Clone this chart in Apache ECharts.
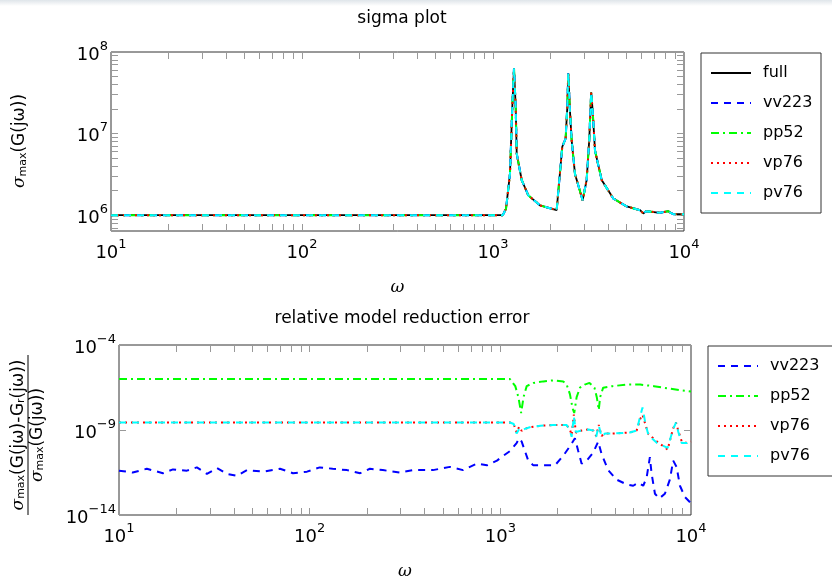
<!DOCTYPE html>
<html><head><meta charset="utf-8">
<script src="https://cdn.jsdelivr.net/npm/echarts@6/dist/echarts.min.js"></script>
<style>html,body{margin:0;padding:0;background:#fff}#c{width:832px;height:581px}</style>
</head><body><div id="c"></div>
<script>
// ---------- data ----------
const seriesNames = ['full', 'vv223', 'pp52', 'vp76', 'pv76'];
const xLabelTicks = [10, 100, 1000, 10000];
const xTicks = [10, 20, 30, 40, 50, 60, 70, 80, 90, 100, 200, 300, 400, 500, 600, 700, 800, 900, 1000,
  2000, 3000, 4000, 5000, 6000, 7000, 8000, 9000, 10000];
const yTopLabelTicks = [1e6, 1e7, 1e8];
const yTopTicks = [7e5, 8e5, 9e5, 1e6, 2e6, 3e6, 4e6, 5e6, 6e6, 7e6, 8e6, 9e6, 1e7,
  2e7, 3e7, 4e7, 5e7, 6e7, 7e7, 8e7, 9e7, 1e8];
const yBotLabelTicks = [1e-14, 1e-9, 1e-4];

// sigma plot (all models overlap the full model)
const omegaTop = [10, 1125, 1170, 1227, 1262, 1288, 1315, 1331, 1413, 1531, 1762, 2154, 2305, 2400, 2449, 2477,
  2529, 2581, 2687, 2946, 3093, 3190, 3267, 3325, 3420, 3706, 4266, 5012, 5888, 6124, 6324, 7487, 8276, 8511, 8790, 10000];
const sigmaFull = [1e6, 1e6, 1.2e6, 3.2e6, 2.1e7, 6.3e7, 2.1e7, 5.7e6, 2.7e6, 1.75e6, 1.32e6, 1.15e6, 6.9e6, 8.7e6, 2.1e7, 5.5e7,
  1.9e7, 8.3e6, 3.2e6, 1.52e6, 2.7e6, 8.3e6, 3.2e7, 1.9e7, 6.2e6, 2.7e6, 1.6e6, 1.28e6, 1.15e6, 1.05e6, 1.12e6, 1.07e6, 1.12e6, 1.07e6, 1.03e6, 1.03e6];
const sigmaVV = sigmaFull, sigmaPP = sigmaFull, sigmaVP = sigmaFull, sigmaPV = sigmaFull;

// relative error
const omegaVV = [10, 11.8, 14, 17, 19.2, 22.7, 25.6, 28.9, 32.7, 36.8, 41.6, 46.9, 56.9, 69.9, 81.7, 96.8, 113, 132, 157, 184,
  207, 242, 298, 348, 379, 443, 544, 637, 754, 851, 960, 1036, 1123, 1217, 1256, 1294, 1346, 1401, 1489, 1680,
  1933, 2137, 2317, 2462, 2562, 2669, 2836, 3070, 3260, 3397, 3679, 4072, 4595, 4977, 5286, 5614, 5848, 6086, 6209, 6471,
  6808, 7295, 7745, 8066, 8402, 8750, 9290, 10000];
const errVV = [4.07e-12, 3.16e-12, 5.25e-12, 2.88e-12, 4.79e-12, 4.07e-12, 6.31e-12, 2.63e-12, 5.75e-12, 2.63e-12,
  2.04e-12, 4.37e-12, 3.55e-12, 5.25e-12, 2.88e-12, 3.55e-12, 6.31e-12, 5.25e-12, 4.37e-12, 2.88e-12,
  5.25e-12, 4.37e-12, 3.16e-12, 4.37e-12, 4.37e-12, 4.37e-12, 6.76e-12, 4.37e-12, 1.05e-11, 8.32e-12,
  1.58e-11, 3.02e-11, 5.75e-11, 1.70e-10, 3.24e-10, 2.09e-10, 5.75e-11, 1.58e-11, 8.32e-12, 8.32e-12,
  8.32e-12, 3.02e-11, 1.10e-10, 3.24e-10, 5.75e-11, 1.05e-11, 1.58e-11, 4.68e-11, 2.09e-10, 3.80e-11,
  4.37e-12, 1.20e-12, 6.31e-13, 5.25e-13, 7.94e-13, 5.25e-13, 1.51e-12, 2.51e-11, 2.88e-12, 1.78e-13,
  9.33e-14, 1.78e-13, 1.20e-12, 1.58e-11, 6.76e-12, 5.25e-13, 1.15e-13, 4.90e-14];

const omegaPP = [10, 1123, 1198, 1244, 1286, 1323, 1375, 1489, 1680, 1895, 2137, 2228, 2317, 2394, 2441, 2513, 2617, 2771,
  2935, 3117, 3205, 3283, 3337, 3462, 3878, 4595, 5416, 6390, 7541, 8750, 10000];
const errPP = [1.0e-6, 1.0e-6, 3.80e-7, 8.51e-8, 1.0e-8, 8.51e-8, 3.80e-7, 5.89e-7, 7.24e-7, 8.32e-7, 7.24e-7, 4.68e-7, 1.29e-7, 1.86e-8, 1.0e-8, 8.51e-8, 3.09e-7, 4.68e-7,
  5.89e-7, 3.09e-7, 8.51e-8, 1.51e-8, 8.51e-8, 3.09e-7, 3.80e-7, 4.68e-7, 4.68e-7, 3.80e-7, 2.82e-7, 2.19e-7, 1.82e-7];

const omegaPV = [10, 1123, 1176, 1217, 1256, 1294, 1346, 1426, 1623, 1895, 2228, 2317, 2365, 2430, 2491, 2669, 2895, 3070,
  3181, 3283, 3397, 3540, 3878, 4779, 5189, 5416, 5568, 5755, 5984, 6637, 7541, 7745, 8066, 8341, 8582, 8945, 9515, 10000];
const errPV = [2.75e-9, 2.75e-9, 2.24e-9, 6.17e-10, 1.17e-9, 9.33e-10, 1.17e-9, 1.45e-9, 1.78e-9, 1.95e-9, 1.95e-9, 9.33e-10, 3.98e-10, 6.46e-9, 7.59e-10, 9.33e-10, 1.07e-9, 9.33e-10,
  3.98e-10, 1.78e-9, 3.98e-10, 6.17e-10, 6.17e-10, 7.08e-10, 9.33e-10, 6.46e-9, 2.14e-8, 2.75e-9, 4.90e-10, 1.70e-10, 8.91e-11, 2.51e-10, 1.17e-9, 2.75e-9, 7.59e-10, 1.70e-10, 1.70e-10, 2.09e-10];
const omegaVP = omegaPV;
const errVP = [2.75e-9, 2.75e-9, 2.24e-9, 7.08e-10, 1.58e-9, 8.91e-10, 1.17e-9, 1.45e-9, 1.78e-9, 1.95e-9, 1.95e-9, 1.05e-9, 5.01e-10, 7.94e-9, 6.92e-10, 9.33e-10, 1.07e-9, 9.33e-10,
  4.47e-10, 2.00e-9, 4.47e-10, 6.17e-10, 6.17e-10, 7.08e-10, 9.33e-10, 4.47e-9, 7.94e-9, 2.24e-9, 5.62e-10, 2.09e-10, 7.08e-11, 2.24e-10, 1.26e-9, 2.75e-9, 8.91e-10, 2.09e-10, 1.70e-10, 2.09e-10];

// ---------- chart ----------
const FONT = 'DejaVu Sans';
const zip = (a, b) => a.map((v, i) => [v, b[i]]);
const labelRich = {
  b: { fontSize: 18, fontFamily: FONT, color: '#000', lineHeight: 24, verticalAlign: 'bottom' },
  sup: { fontSize: 13, fontFamily: FONT, color: '#000', lineHeight: 13, verticalAlign: 'top' }
};
function powLabel(labels) {
  return function (v) {
    let hit = labels.some(t => Math.abs(t - v) / t < 1e-6);
    if (!hit) return '';
    const e = Math.round(Math.log10(v));
    return '{b|10}{sup|' + (e < 0 ? '\u2212' + (-e) : e) + '}';
  };
}
const tickStyle = { color: '#999', width: 1 };
function xAx(grid, pos, show) {
  return {
    type: 'log', logBase: 10, gridIndex: grid, position: pos, min: 10, max: 10000,
    axisLine: { show: false }, splitLine: { show: false },
    axisTick: { show: true, inside: true, length: 7, lineStyle: tickStyle, customValues: xTicks },
    axisLabel: show ? { show: true, margin: 7, customValues: xLabelTicks, formatter: powLabel(xLabelTicks), rich: labelRich } : { show: false },
    name: show ? 'ω' : '', nameLocation: 'middle', nameGap: 48,
    nameTextStyle: { fontFamily: 'DejaVu Serif', fontStyle: 'italic', fontSize: 17, color: '#000' }
  };
}
function yAx(grid, pos, show, min, max, ticks, labels) {
  return {
    type: 'log', logBase: 10, gridIndex: grid, position: pos, min: min, max: max,
    axisLine: { show: false }, splitLine: { show: false },
    axisTick: { show: true, inside: true, length: 7, lineStyle: tickStyle, customValues: ticks },
    axisLabel: show ? { show: true, margin: 3, customValues: labels, formatter: powLabel(labels), rich: labelRich } : { show: false }
  };
}
const styles = {
  full: { color: '#000000', type: 'solid', width: 1.8 },
  vv223: { color: '#0000ff', type: [7, 6], width: 2 },
  pp52: { color: '#00ff00', type: [8, 4, 2, 4], width: 2 },
  vp76: { color: '#ff0000', type: [2, 4], width: 2 },
  pv76: { color: '#00ffff', type: [7, 6], width: 2 }
};
function ser(name, data, ax) {
  return {
    type: 'line', name: name, data: data, xAxisIndex: ax, yAxisIndex: ax, symbol: 'none',
    lineStyle: styles[name], itemStyle: { color: styles[name].color }, animation: false, silent: true
  };
}
const legendBase = {
  orient: 'vertical', itemWidth: 40, itemHeight: 14, itemGap: 14, borderColor: '#333', borderWidth: 1,
  backgroundColor: '#fff', itemStyle: { opacity: 0 },
  textStyle: { fontFamily: FONT, fontSize: 16, color: '#000', padding: [0, 0, 0, 7], lineHeight: 14 }
};
const supRich = {
  s: { fontFamily: 'DejaVu Serif', fontStyle: 'italic', fontSize: 17, color: '#000' },
  sub: { fontFamily: FONT, fontSize: 11, color: '#000', verticalAlign: 'bottom', lineHeight: 16 },
  n: { fontFamily: FONT, fontSize: 17, color: '#000' }
};
const chart = echarts.init(document.getElementById('c'), null, { renderer: 'canvas' });
chart.setOption({
  animation: false,
  backgroundColor: '#fff',
  title: [
    { text: 'sigma plot', left: 397, top: 5, textAlign: 'center', textStyle: { fontFamily: FONT, fontSize: 17, fontWeight: 'normal', color: '#000' } },
    { text: 'relative model reduction error', left: 397, top: 305, textAlign: 'center', textStyle: { fontFamily: FONT, fontSize: 17, fontWeight: 'normal', color: '#000' } }
  ],
  grid: [
    { left: 111, top: 52, width: 573, height: 179, show: true, borderColor: '#333', borderWidth: 1, backgroundColor: 'transparent' },
    { left: 119, top: 345, width: 572, height: 179, show: true, borderColor: '#333', borderWidth: 1, backgroundColor: 'transparent' }
  ],
  xAxis: [xAx(0, 'bottom', true), xAx(0, 'top', false), xAx(1, 'bottom', true), xAx(1, 'top', false)],
  yAxis: [
    yAx(0, 'left', true, 6.4e5, 1e8, yTopTicks, yTopLabelTicks),
    yAx(0, 'right', false, 6.4e5, 1e8, yTopTicks, yTopLabelTicks),
    yAx(1, 'left', true, 1e-14, 1e-4, yBotLabelTicks, yBotLabelTicks),
    yAx(1, 'right', false, 1e-14, 1e-4, yBotLabelTicks, yBotLabelTicks)
  ],
  legend: [
    Object.assign({}, legendBase, { left: 701, top: 53, padding: [12, 8, 12, 9], data: seriesNames,
      textStyle: Object.assign({}, legendBase.textStyle, { width: 50 }) }),
    Object.assign({}, legendBase, { left: 708, top: 346, padding: [12, 8, 12, 9], data: seriesNames.slice(1),
      textStyle: Object.assign({}, legendBase.textStyle, { width: 55 }) })
  ],
  series: [
    ser('full', zip(omegaTop, sigmaFull), 0),
    ser('vv223', zip(omegaTop, sigmaVV), 0),
    ser('pp52', zip(omegaTop, sigmaPP), 0),
    ser('vp76', zip(omegaTop, sigmaVP), 0),
    ser('pv76', zip(omegaTop, sigmaPV), 0),
    ser('vv223', zip(omegaVV, errVV), 2),
    ser('pp52', zip(omegaPP, errPP), 2),
    ser('vp76', zip(omegaVP, errVP), 2),
    ser('pv76', zip(omegaPV, errPV), 2)
  ],
  graphic: [
    { type: 'rect', left: 0, top: 0, shape: { width: 832, height: 6 }, silent: true,
      style: { fill: new echarts.graphic.LinearGradient(0, 0, 0, 1, [{ offset: 0, color: '#dfe5ea' }, { offset: 1, color: '#ffffff' }]) } },
    { type: 'group', x: 20, y: 141, rotation: Math.PI / 2, silent: true, children: [
      { type: 'text', x: 0, y: 0, style: { text: '{s|σ}{sub|max}{n|(G(jω))}', rich: supRich, align: 'center', verticalAlign: 'middle' } }
    ] },
    { type: 'group', x: 28, y: 435, rotation: Math.PI / 2, silent: true, children: [
      { type: 'text', x: 0, y: -1, style: { text: '{s|σ}{sub|max}{n|(G(jω)-G}{sub|r}{n|(jω))}', rich: supRich, align: 'center', verticalAlign: 'bottom' } },
      { type: 'line', shape: { x1: -80, y1: 0, x2: 80, y2: 0 }, style: { stroke: '#000', lineWidth: 1 } },
      { type: 'text', x: 0, y: 1, style: { text: '{s|σ}{sub|max}{n|(G(jω))}', rich: supRich, align: 'center', verticalAlign: 'top' } }
    ] }
  ]
});
</script></body></html>
